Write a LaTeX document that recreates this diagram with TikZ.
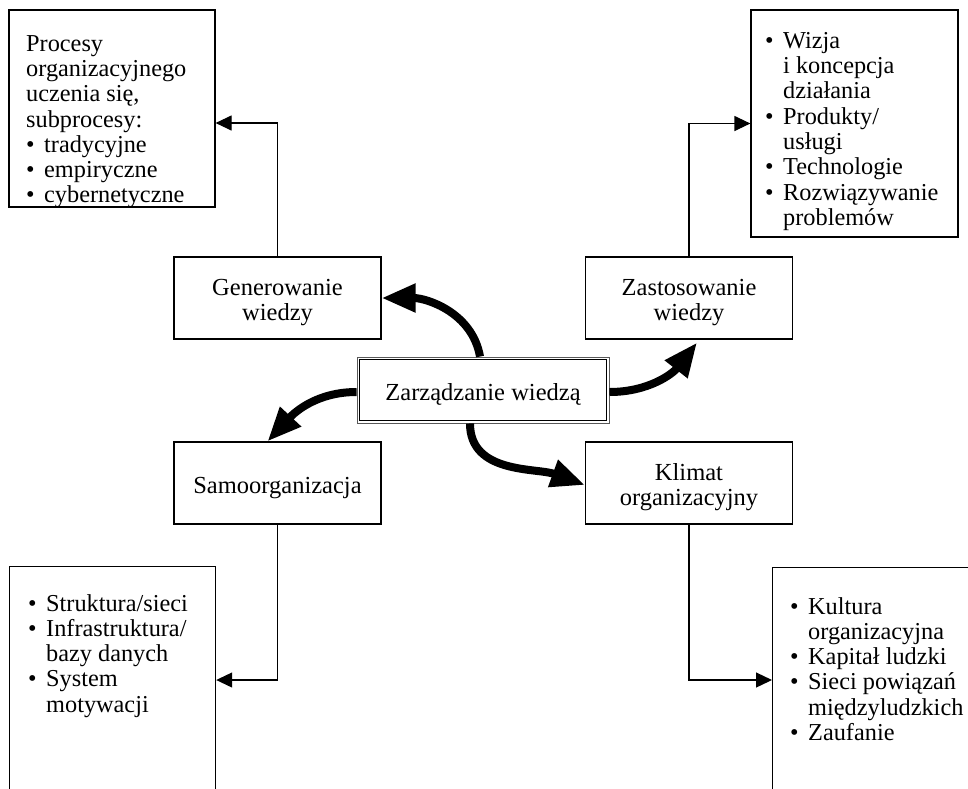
\documentclass[tikz,border=0pt]{standalone}
\usepackage{fontspec}
\setmainfont{Liberation Serif}
\usetikzlibrary{arrows.meta}
\newcommand\bul{\makebox[18pt][l]{•}}
\newcommand\ind{\hspace*{18pt}}
\newcommand\tp{\rule{0pt}{26pt}}
\tikzset{
  box/.style={draw, line width=1.2pt, inner sep=0pt, align=center,
    minimum width=207pt, minimum height=82pt,
    font=\fontsize{24.5}{25}\selectfont},
  listtext/.style={anchor=north west, inner sep=0pt, align=left,
    font=\fontsize{24.3}{25.3}\selectfont},
  conn/.style={line width=1.2pt, -{Triangle[length=16pt,width=15pt]}},
  bigarrow/.style={line width=8pt, -{Triangle[length=34pt,width=27pt]}},
}
\begin{document}
\begin{tikzpicture}[x=1pt,y=-1pt]
\useasboundingbox (0,0) rectangle (968,788);
\clip (0,0) rectangle (968,788);
\fill[white] (0,0) rectangle (968,788);
% big boxes
\node[box, minimum width=206pt, minimum height=197pt] (tl) at (112,108.5) {};
\node[box, minimum width=207pt, minimum height=227pt] (tr) at (854.5,123.5) {};
\node[box, minimum width=206pt, minimum height=400pt, anchor=north west] (bl) at (9,566) {};
\node[box, minimum width=300pt, minimum height=400pt, anchor=north west] (br) at (772,567) {};
% middle boxes
\node[box] (gen) at (277.5,298) {\tp Generowanie\\wiedzy};
\node[box] (zast) at (689,298) {\tp Zastosowanie\\wiedzy};
\node[box] (samo) at (277.5,483) {\tp Samoorganizacja};
\node[box] (klim) at (689,483) {\tp Klimat\\organizacyjny};
\node[box, minimum width=252pt, minimum height=66pt, line width=0.9pt, draw=black!65] (zw) at (483,390) {\tp Zarządzanie wiedzą};
\draw[line width=1.1pt] ([shift={(2.6pt,-2.6pt)}]zw.north west) rectangle ([shift={(-2.6pt,2.6pt)}]zw.south east);
% texts
\node[listtext] (tlt) at (26,35) {Procesy\\organizacyjnego\\uczenia się,\\subprocesy:\\\bul tradycyjne\\\bul empiryczne\\\bul cybernetyczne};
\node[listtext] (trt) at (765,32) {\bul Wizja\\\ind i koncepcja\\\ind działania\\\bul Produkty/\\\ind usługi\\\bul Technologie\\\bul Rozwiązywanie\\\ind problemów};
\node[listtext] (blt) at (28,594) {\bul Struktura/sieci\\\bul Infrastruktura/\\\ind bazy danych\\\bul System\\\ind motywacji};
\node[listtext] (brt) at (790,597) {\bul Kultura\\\ind organizacyjna\\\bul Kapitał ludzki\\\bul Sieci powiązań\\\ind międzyludzkich\\\bul Zaufanie};
% thin connectors
\draw[conn] (gen.north) |- ([yshift=-14.5pt]tl.east);
\draw[conn] (zast.north) |- (tr.west);
\draw[conn] (samo.south) |- ([yshift=-114pt]bl.north east);
\draw[conn] (klim.south) |- ([yshift=-113pt]br.north west);
% thick arrows
\draw[bigarrow] ([xshift=-3pt]zw.north) to[out=100,in=0] (gen.east);
\draw[bigarrow] ([yshift=-2pt]zw.east) to[out=0,in=232] ([xshift=8pt,yshift=-3pt]zast.south);
\draw[bigarrow] ([yshift=-2pt]zw.west) to[out=180,in=47] ([xshift=-10pt]samo.north);
\draw[bigarrow] ([xshift=-13pt]zw.south) to[out=-90,in=160] ([yshift=-2pt]klim.west);
\end{tikzpicture}
\end{document}
